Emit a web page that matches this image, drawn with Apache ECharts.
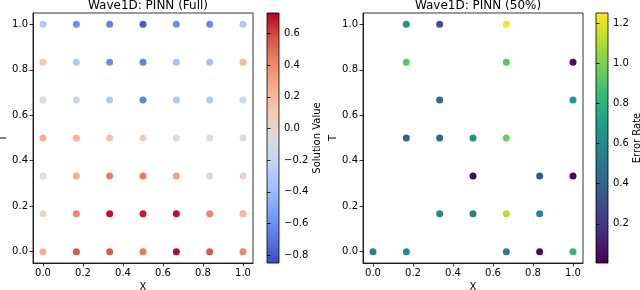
<!DOCTYPE html>
<html><head><meta charset="utf-8">
<script src="https://cdn.jsdelivr.net/npm/echarts@6/dist/echarts.min.js"></script>
<style>html,body{margin:0;padding:0;background:#fff}#c{width:640px;height:290px}</style>
</head><body><div id="c"></div>
<script>
// ---- data ----
const gridX = [0, 0.1667, 0.3333, 0.5, 0.6667, 0.8333, 1.0];
const gridT = [0, 0.1667, 0.3333, 0.5, 0.6667, 0.8333, 1.0];
// solution values, one row per T (bottom to top), columns follow gridX
const solRowT0   = [0.25, 0.55, 0.55, 0.45, 0.72, 0.55, 0.40];
const solRowT1   = [0.02, 0.40, 0.70, 0.68, 0.70, 0.40, 0.20];
const solRowT2   = [-0.08, 0.25, 0.45, 0.45, 0.30, -0.08, 0.03];
const solRowT3   = [0.25, 0.22, 0.15, 0.08, -0.03, -0.06, -0.04];
const solRowT4   = [-0.08, -0.15, -0.30, -0.65, -0.30, -0.30, -0.15];
const solRowT5   = [0.12, -0.30, -0.60, -0.65, -0.35, -0.35, 0.20];
const solRowT6   = [-0.30, -0.60, -0.65, -0.80, -0.60, -0.62, -0.30];
const solRows = [solRowT0, solRowT1, solRowT2, solRowT3, solRowT4, solRowT5, solRowT6];
// 50% subset: x, t, error rate
const subX   = [0.1667, 0.3333, 0.6667, 0.1667, 0.6667, 1.0, 0.3333, 1.0, 0.1667, 0.3333, 0.5, 0.6667, 0.5, 0.8333, 1.0, 0.3333, 0.5, 0.6667, 0.8333, 0, 0.1667, 0.6667, 0.8333, 1.0];
const subT   = [1.0, 1.0, 1.0, 0.8333, 0.8333, 0.8333, 0.6667, 0.6667, 0.5, 0.5, 0.5, 0.5, 0.3333, 0.3333, 0.3333, 0.1667, 0.1667, 0.1667, 0.1667, 0, 0, 0, 0, 0];
const subErr = [0.62, 0.33, 1.24, 0.93, 0.93, 0.05, 0.43, 0.68, 0.38, 0.43, 0.62, 0.98, 0.03, 0.35, 0.03, 0.58, 0.55, 1.12, 0.58, 0.55, 0.62, 0.55, 0.03, 0.82];
const axisTicks = [0, 0.2, 0.4, 0.6, 0.8, 1.0];
const solTicks = [-0.8, -0.6, -0.4, -0.2, 0.0, 0.2, 0.4, 0.6];
const errTicks = [0.2, 0.4, 0.6, 0.8, 1.0, 1.2];
const solRange = [-0.85, 0.73];
const errRange = [0.005, 1.25];

const coolwarm = ['#3b4cc0','#5977e3','#7b9ff9','#9ebeff','#c0d4f5','#dddcdc','#f2cbb7','#f7ac8e','#ee8468','#d65244','#b40426'];
const viridis = ['#440154','#482878','#3e4989','#31688e','#26828e','#1f9e89','#35b779','#6ece58','#b5de2b','#fde725'];

const fullData = [];
solRows.forEach((row, i) => row.forEach((v, j) => fullData.push([gridX[j], gridT[i], v])));
const subData = subX.map((x, i) => [x, subT[i], subErr[i]]);

function grad(colors) {
  return new echarts.graphic.LinearGradient(0, 1, 0, 0,
    colors.map((c, i) => ({offset: i / (colors.length - 1), color: c})));
}
const FONT = 'DejaVu Sans';
const fmt = v => v.toFixed(1).replace('-', '\u2212');
const lab = {color: '#000', fontFamily: FONT, fontSize: 10};

function mainX(gi) {
  return {gridIndex: gi, type: 'value', min: -0.05, max: 1.05,
    name: 'X', nameLocation: 'middle', nameGap: 19, nameTextStyle: lab,
    axisLine: {onZero: false, lineStyle: {color: '#000', width: 0.8}},
    axisTick: {customValues: axisTicks, length: 3.5, lineStyle: {color: '#000', width: 0.8}},
    axisLabel: {customValues: axisTicks, formatter: fmt, margin: 5, ...lab},
    splitLine: {show: false}};
}
function mainY(gi) {
  return {gridIndex: gi, type: 'value', min: -0.05, max: 1.05,
    name: 'T', nameLocation: 'middle', nameGap: 25, nameRotate: 90, nameTextStyle: lab,
    axisLine: {onZero: false, lineStyle: {color: '#000', width: 0.8}},
    axisTick: {customValues: axisTicks, length: 3.5, lineStyle: {color: '#000', width: 0.8}},
    axisLabel: {customValues: axisTicks, formatter: fmt, margin: 5, ...lab},
    splitLine: {show: false}};
}
function cbX(gi) {
  return {gridIndex: gi, type: 'value', show: false, min: 0, max: 1};
}
function cbY(gi, range, ticks, name, gap) {
  return {gridIndex: gi, type: 'value', position: 'right', min: range[0], max: range[1],
    name: name, nameLocation: 'middle', nameGap: gap, nameRotate: 90, nameTextStyle: lab,
    axisLine: {show: false},
    axisTick: {customValues: ticks, length: 3.5, lineStyle: {color: '#000', width: 0.8}},
    axisLabel: {customValues: ticks, formatter: fmt, margin: 5, ...lab},
    splitLine: {show: false}};
}
const gbase = {show: true, borderColor: '#000', borderWidth: 0.8, containLabel: false, outerBoundsMode: 'none'};

const chart = echarts.init(document.getElementById('c'), null, {renderer: 'canvas'});
chart.setOption({
  animation: false,
  backgroundColor: '#fff',
  title: [
    {text: 'Wave1D: PINN (Full)', left: 143, top: -5, textAlign: 'center',
      textStyle: {fontFamily: FONT, fontSize: 12, fontWeight: 'normal', color: '#000'}},
    {text: 'Wave1D: PINN (50%)', left: 473, top: -5, textAlign: 'center',
      textStyle: {fontFamily: FONT, fontSize: 12, fontWeight: 'normal', color: '#000'}}
  ],
  grid: [
    {...gbase, left: 33, top: 13, width: 220, height: 250, backgroundColor: 'transparent'},
    {...gbase, left: 267, top: 13, width: 12, height: 250, backgroundColor: grad(coolwarm)},
    {...gbase, left: 363, top: 13, width: 220, height: 250, backgroundColor: 'transparent'},
    {...gbase, left: 596, top: 13, width: 12, height: 250, backgroundColor: grad(viridis)}
  ],
  xAxis: [mainX(0), cbX(1), mainX(2), cbX(3)],
  yAxis: [mainY(0), cbY(1, solRange, solTicks, 'Solution Value', 22), mainY(2), cbY(3, errRange, errTicks, 'Error Rate', 20)],
  visualMap: [
    {show: false, type: 'continuous', seriesIndex: 0, dimension: 2, min: solRange[0], max: solRange[1], inRange: {color: coolwarm}},
    {show: false, type: 'continuous', seriesIndex: 1, dimension: 2, min: errRange[0], max: errRange[1], inRange: {color: viridis}}
  ],
  series: [
    {type: 'scatter', xAxisIndex: 0, yAxisIndex: 0, data: fullData, symbolSize: 7, itemStyle: {opacity: 1}},
    {type: 'scatter', xAxisIndex: 2, yAxisIndex: 2, data: subData, symbolSize: 7, itemStyle: {opacity: 1}}
  ]
});
</script></body></html>
